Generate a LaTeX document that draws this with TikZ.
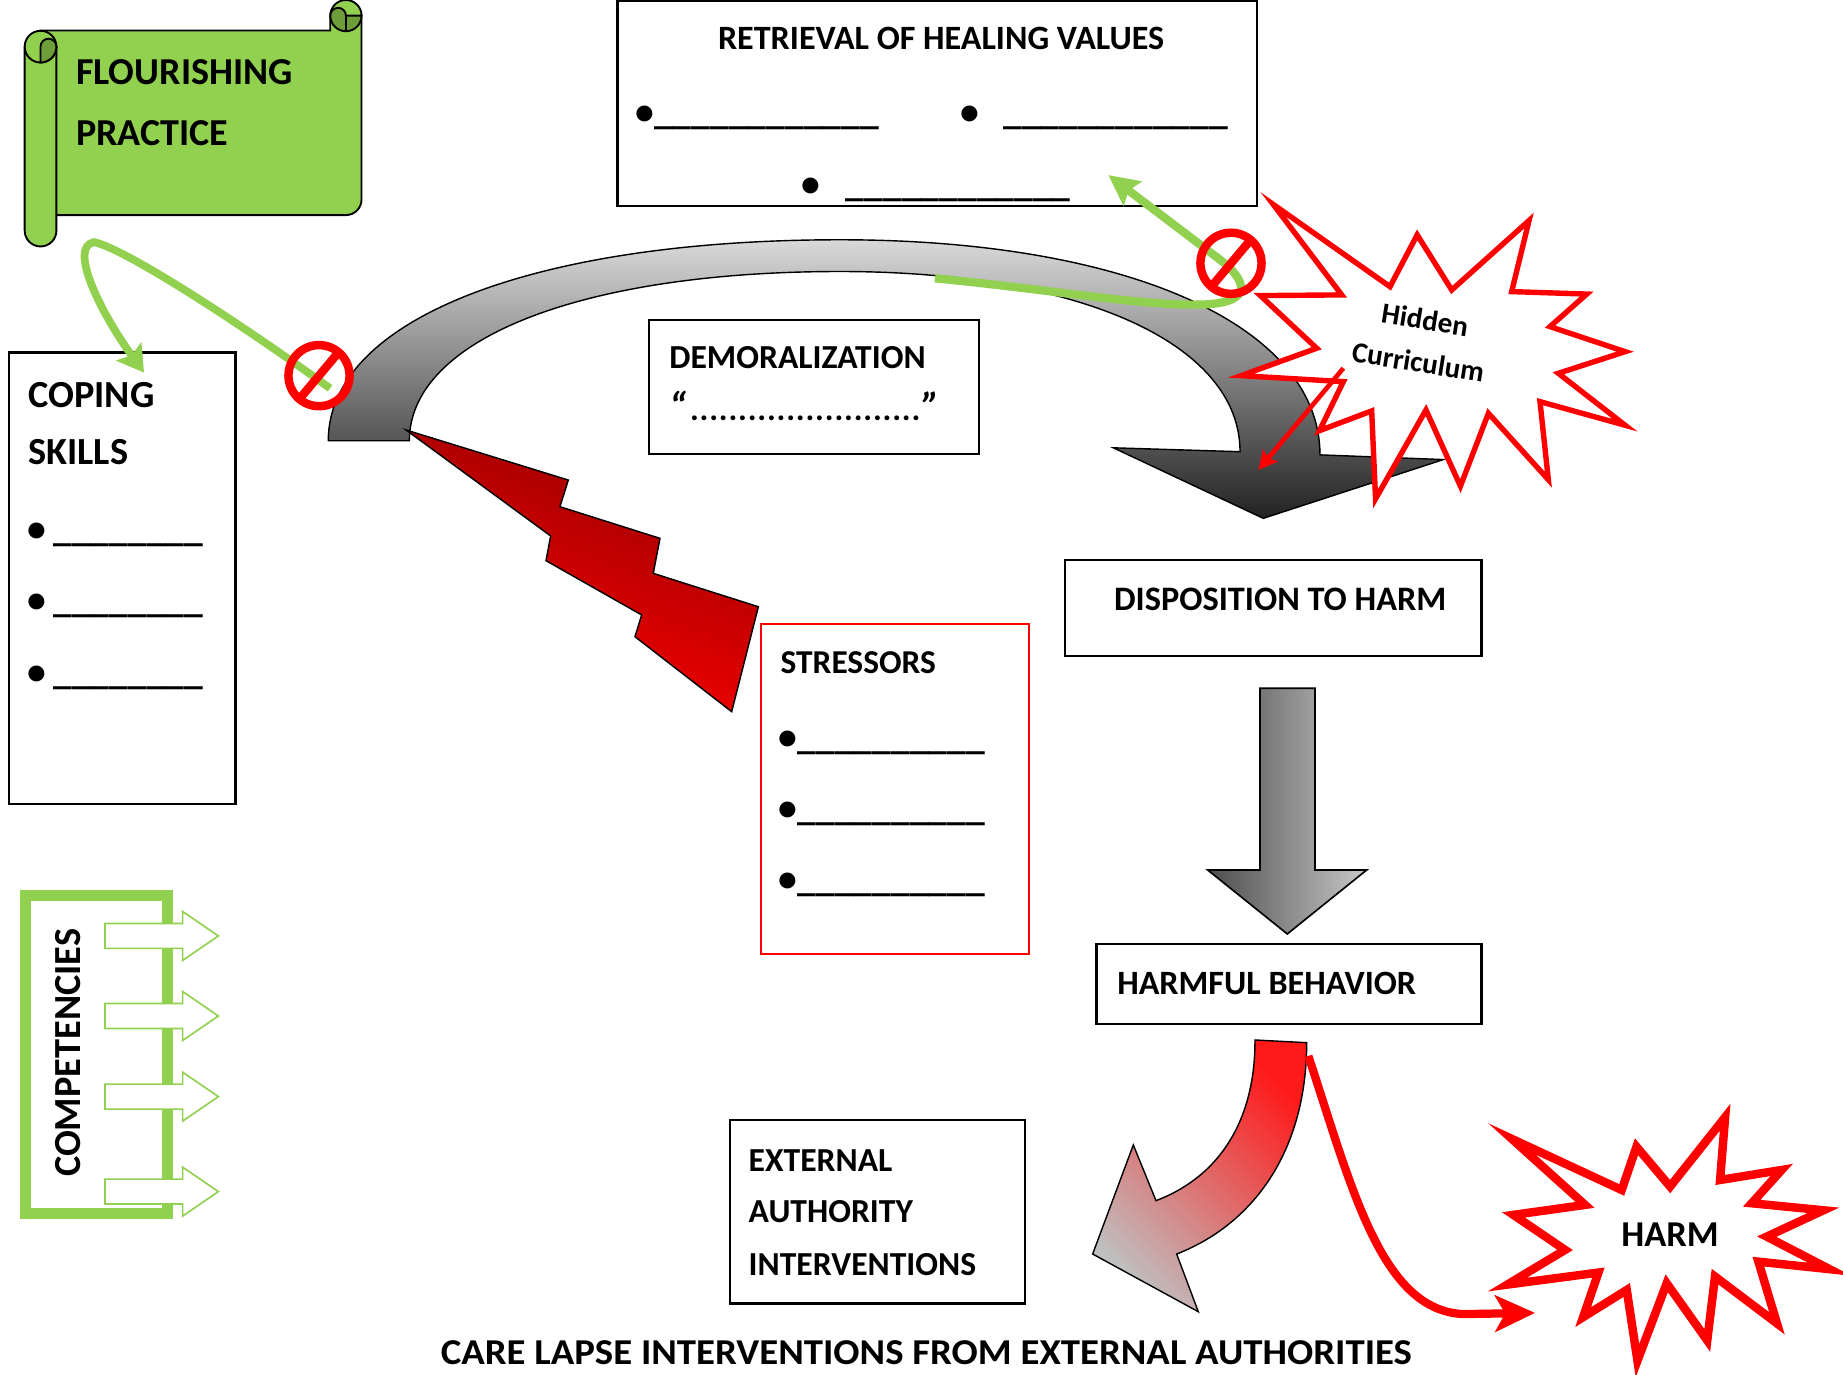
\documentclass[tikz,border=0pt]{standalone}
\usepackage{fontspec}
\setmainfont{Carlito}
\usetikzlibrary{arrows.meta}
\definecolor{lgreen}{HTML}{92D050}
\definecolor{dgreen}{HTML}{6E9E3A}
\definecolor{pred}{HTML}{FF0000}
\definecolor{gtop}{HTML}{D9D9D9}
\definecolor{gmid}{HTML}{A0A0A0}
\definecolor{gbot}{HTML}{222222}
\definecolor{dleft}{HTML}{4D4D4D}
\definecolor{dright}{HTML}{C8C8C8}
\definecolor{boltdark}{HTML}{960000}
\definecolor{boltlight}{HTML}{FF0000}
\definecolor{cred}{HTML}{FF1A1A}
\definecolor{cgray}{HTML}{BFBFBF}
\newcommand\fz[1]{\fontsize{#1pt}{#1pt}\selectfont\bfseries}
\newcommand\hcfont{\fontsize{12.4pt}{18.2pt}\selectfont\bfseries}
\newcommand\dotrow{\hbox to 98.4pt{\xleaders\hbox to 4.1pt{\hss.\hss}\hfill}}
\tikzset{
  t/.style={inner sep=0pt, outer sep=0pt, anchor=base west},
  tb/.style={inner sep=0pt, outer sep=0pt, anchor=base},
  box/.style={draw=black, line width=1.1pt, fill=white},
  scroll/.style={draw=black, line width=0.8pt, fill=lgreen},
  scrolldk/.style={draw=black, line width=0.8pt, fill=dgreen},
  nosign/.style={draw=pred, line width=3.6pt},
  gline/.style={draw=lgreen, line width=3.3pt},
  burst/.style={draw=pred, fill=white, line join=miter, miter limit=20},
  comparrow/.style={draw=lgreen, fill=white, line width=0.7pt},
}
\begin{document}
\begin{tikzpicture}[x=0.5pt,y=-0.5pt]
\useasboundingbox (0,0) rectangle (1568,1169.8);
\fill[white] (0,0) rectangle (1568,1169.8);

% ---------- scroll ----------
\path[scroll] (34.5,26) -- (281,26) -- (281,13.3)
   arc[start angle=180,end angle=360,radius=13.3]
   -- (307.6,169.7) arc[start angle=0,end angle=90,radius=13.3]
   -- (34.5,183) -- cycle;
\path[scrolldk] (281,13.3) arc[start angle=180,end angle=360,radius=6.65]
   -- (307.6,13.3) arc[start angle=0,end angle=180,radius=13.3] -- cycle;
\draw[line width=0.8pt] (294.3,13.3) -- (294.3,26);
\path[scroll] (21,39.7) -- (21,196.2) arc[start angle=180,end angle=0,radius=13.5]
   -- (48,39.7) arc[start angle=0,end angle=-180,radius=13.5] -- cycle;
\draw[line width=0.8pt] (21,39.7) arc[start angle=180,end angle=0,radius=13.5];
\path[scrolldk] (34.5,39.7) arc[start angle=180,end angle=360,radius=6.75]
   arc[start angle=0,end angle=90,radius=13.5] -- cycle;
\node[t] (flour) at (64.7,71.5) {\fz{16.2}FLOURISHING};
\node[t] (pract) at (64.7,123.4) {\fz{16.2}PRACTICE};

% ---------- big grey curved arrow ----------
\path[draw=black, line width=0.6pt, top color=gtop, middle color=gmid, bottom color=gbot]
  (279.3,375) .. controls (279.3,272) and (453,204) .. (714.7,204)
  .. controls (959,204) and (1123,277) .. (1123,387)
  -- (1228,391) -- (1074.8,441) -- (947.2,381) -- (1055,384.3)
  .. controls (1055,292.2) and (918.6,231) .. (714.7,231)
  .. controls (494.4,231) and (348.3,288.6) .. (348.3,375) -- cycle;

% ---------- lightning ----------
\path[draw=black, line width=0.6pt, top color=boltdark, bottom color=boltlight, shading angle=-20]
  (345.4,365.8) -- (483.5,408.4) -- (476.4,431.1) -- (561.5,458) -- (555.8,487.8)
  -- (645.2,516.2) -- (622.5,605.5) -- (540.2,541.7) -- (545.9,523.2)
  -- (464.5,477) -- (468.5,456) -- cycle;

% ---------- retrieval box ----------
\draw[box] (525.2,1) rectangle (1069.6,175.3);
\node[t] (rtitle) at (610.9,42) {\fz{14.5}RETRIEVAL OF HEALING VALUES};
\node[tb] (rb1) at (548.5,105.7) {\fz{16}•};
\node[t] (ru1) at (556.6,105.7) {\fz{16}\_\_\_\_\_\_\_\_\_\_\_\_};
\node[tb] (rb2) at (824.8,105.7) {\fz{16}•};
\node[t] (ru2) at (853.6,105.7) {\fz{16}\_\_\_\_\_\_\_\_\_\_\_\_};
\node[tb] (rb3) at (690.2,167.3) {\fz{16}•};
\node[t] (ru3) at (719.7,167.3) {\fz{16}\_\_\_\_\_\_\_\_\_\_\_\_};

% ---------- coping box ----------
\draw[box] (7.7,299.8) rectangle (200.5,684);
\node[t] (coping) at (24.1,346.8) {\fz{16.3}COPING};
\node[t] (skills) at (24.1,395) {\fz{16.3}SKILLS};
\foreach \yy/\nm in {460.8/c1,521.1/c2,582.7/c3}{
  \node[tb] (\nm b) at (31.2,\yy) {\fz{16}•};
  \node[t] (\nm u) at (45.4,\yy) {\fz{16}\_\_\_\_\_\_\_\_};
}

% ---------- demoralization ----------
\draw[box] (552.2,272.3) rectangle (833,386.3);
\node[t] (demo) at (569.5,313.4) {\fz{14.3}DEMORALIZATION};
\node[t] (demoq) at (569.5,358) {\fz{14}{\fontsize{17pt}{17pt}\selectfont\itshape “}\hspace*{1.2pt}\dotrow\hspace*{0.6pt}{\fontsize{17pt}{17pt}\selectfont\itshape ”}};

% ---------- disposition ----------
\draw[box] (906.1,476.4) rectangle (1260.6,558.1);
\node[t] (dispo) at (947.8,519) {\fz{14.6}DISPOSITION TO HARM};

% ---------- stressors ----------
\draw[draw=pred, line width=0.9pt, fill=white] (647.2,530.9) rectangle (875.7,811.6);
\node[t] (stress) at (664.2,572.9) {\fz{14.2}STRESSORS};
\foreach \yy/\nm in {637.4/s1,698.4/s2,758.6/s3}{
  \node[tb] (\nm b) at (670.7,\yy) {\fz{16}•};
  \node[t] (\nm u) at (678.6,\yy) {\fz{16}\_\_\_\_\_\_\_\_\_\_};
}

% ---------- down arrow ----------
\path[draw=black, line width=0.7pt, left color=dleft, right color=dright]
  (1072,585.6) -- (1118.8,585.6) -- (1118.8,740.2) -- (1162.7,740.2)
  -- (1095.2,794.6) -- (1027.5,740.2) -- (1072,740.2) -- cycle;

% ---------- harmful behaviour ----------
\draw[box] (933,803.1) rectangle (1260.6,871.2);
\node[t] (harmful) at (950.6,845.7) {\fz{14.5}HARMFUL BEHAVIOR};

% ---------- external authority ----------
\draw[box] (621,953) rectangle (872,1109);
\node[t] (ext1) at (637,997) {\fz{14.3}EXTERNAL};
\node[t] (ext2) at (637,1040) {\fz{14.3}AUTHORITY};
\node[t] (ext3) at (637,1085) {\fz{14.3}INTERVENTIONS};

\node[t, xscale=1.065] (title) at (375,1161.3) {\fz{15.5}CARE LAPSE INTERVENTIONS FROM EXTERNAL AUTHORITIES};

% ---------- competencies ----------
\draw[draw=lgreen, line width=4.5pt] (21.6,762) rectangle (142.4,1032.3);
\foreach \c in {796.3,864.4,933,1013.8}{
  \path[comparrow] (89.3,{\c-10.6}) -- (155.4,{\c-10.6}) -- (155.4,{\c-20.8})
    -- (185.8,\c) -- (155.4,{\c+20.8}) -- (155.4,{\c+10.6}) -- (89.3,{\c+10.6}) -- cycle;
}
\node[tb, rotate=90] (compet) at (68.9,895.7) {\fz{16.3}COMPETENCIES};

% ---------- green arrows ----------
\coordinate (g1s) at (280.8,330.4);
\coordinate (g1e) at (122.5,317);
\draw[gline, -{Stealth[length=11pt,width=13pt,inset=2pt]}]
  (g1s) .. controls (200,272) and (105,211) .. (80,206)
  .. controls (58,210) and (85,265) .. (g1e);
\coordinate (g2s) at (795.5,236.8);
\coordinate (g2e) at (943,149);
\draw[gline, line width=3.5pt, -{Stealth[length=12.8pt,width=12.6pt,inset=2pt]}]
  (g2s) .. controls (900,247) and (975,261) .. (1025,259)
  .. controls (1068,257) and (1060,238) .. (1038,221) -- (g2e);

% ---------- hidden curriculum burst ----------
\path[burst, line width=2.3pt]
  (1083.2,173.9) -- (1182.6,243.9) -- (1205.7,199.8) -- (1235.1,246.7)
  -- (1300.9,187.6) -- (1286.1,248.1) -- (1350,250.2) -- (1318.7,277.9)
  -- (1382.6,299.2) -- (1325.8,317.6) -- (1382.6,361.8) -- (1310.2,341.7)
  -- (1317.3,408.1) -- (1266.3,351.6) -- (1242.5,413.6) -- (1213.2,348.8)
  -- (1170.3,424.4) -- (1167,349.6) -- (1122.6,366.4) -- (1142.9,324.7)
  -- (1055.9,319.6) -- (1120.2,296.3) -- (1072.3,251.5) -- (1141.5,250.9) -- cycle;
\node[inner sep=0pt, rotate=-9, align=center, font=\hcfont] (hidden) at (1209.5,290) {Hidden\\Curriculum};
\coordinate (ra1) at (1142.9,313.3);
\coordinate (ra2) at (1070.6,399.8);
\draw[draw=pred, line width=2pt, -{Stealth[length=8pt,width=8pt,inset=1.5pt]}] (ra1) -- (ra2);

% ---------- no signs ----------
\foreach \cx/\cy/\nm in {271.4/319.6/ns1, 1047.3/224/ns2}{
  \draw[nosign] (\cx,\cy) circle[radius=26];
  \draw[nosign] ({\cx+16.7},{\cy-19.9}) -- ({\cx-16.7},{\cy+19.9});
}

% ---------- red curved arrow ----------
\path[draw=black, line width=0.6pt, top color=cred, bottom color=cgray, shading angle=-45]
  (1067.7,884.8) -- (1111.7,887.1)
  .. controls (1111.7,975) and (1070,1040) .. (1001.1,1066.9)
  -- (1019.5,1116) -- (929.6,1066.9) -- (964.2,974.1) -- (983.5,1021.5)
  .. controls (1040,1000) and (1068,950) .. (1067.7,884.8) -- cycle;

% ---------- harm burst ----------
\path[burst, line width=3.6pt]
  (1286.3,969) -- (1379.7,1012.4) -- (1392.3,975.6) -- (1420.9,1009.5)
  -- (1467.7,950.5) -- (1463.4,1003.9) -- (1515.8,995.4) -- (1490.3,1023.7)
  -- (1551.3,1029.7) -- (1503.1,1052.1) -- (1556.6,1079.8) -- (1496,1073.4)
  -- (1511.8,1125.9) -- (1459.1,1086.1) -- (1452.5,1140.4) -- (1418,1091.8)
  -- (1393.1,1157.6) -- (1384,1097.5) -- (1346.9,1120.6) -- (1359.9,1082.7)
  -- (1282.4,1092.9) -- (1331.5,1063.4) -- (1287.6,1033.6) -- (1348.5,1025.1) -- cycle;
\node[tb] (harm) at (1420.9,1060.6) {\fz{15.5}HARM};

\coordinate (rl1) at (1113.1,898.4);
\coordinate (rl2) at (1306,1117);
\draw[draw=pred, line width=3.5pt, -{Stealth[length=17pt,width=15.5pt,inset=4.3pt]}]
  (rl1) .. controls (1150,1010) and (1175,1115) .. (1245,1118) -- (rl2);
\end{tikzpicture}
\end{document}
